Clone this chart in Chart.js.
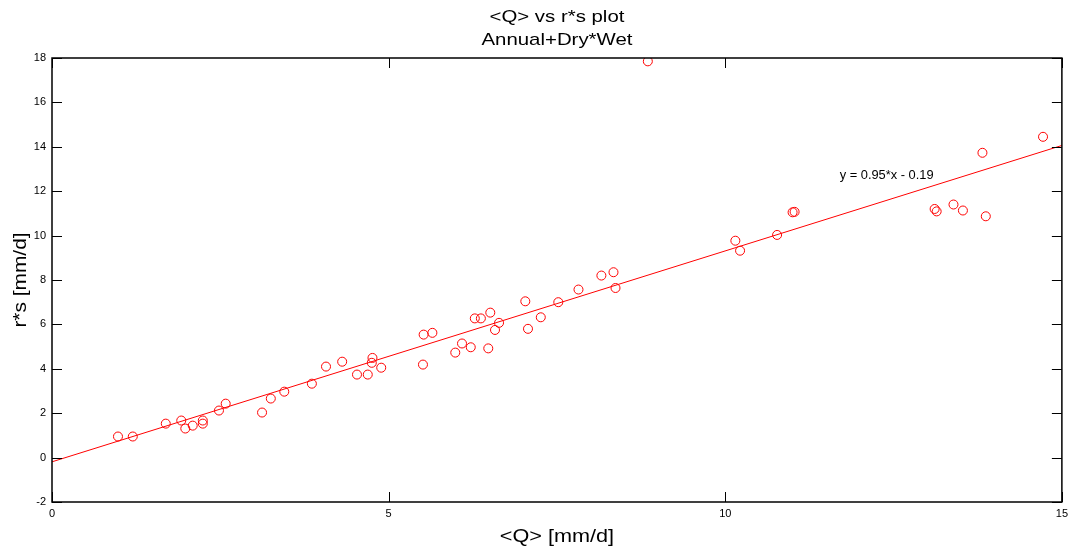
<!DOCTYPE html>
<html>
<head>
<meta charset="utf-8">
<script src="https://cdn.jsdelivr.net/npm/chart.js@4"></script>
<style>
  html, body { margin: 0; padding: 0; background: #fff; }
  #wrap { width: 1073px; height: 548px; position: relative; }
</style>
</head>
<body>
<div id="wrap"><canvas id="c" width="1073" height="548"></canvas></div>
<script>
// Observed mean discharge <Q> [mm/d]
const qValues = [
  0.98, 1.20, 1.69, 1.92, 1.98, 2.09, 2.24, 2.24, 2.48, 2.58,
  3.12, 3.25, 3.45, 3.86, 4.07, 4.31, 4.53, 4.69, 4.76, 4.75,
  4.89, 5.51, 5.52, 5.65, 5.99, 6.09, 6.22, 6.28, 6.37, 6.51,
  6.48, 6.64, 6.58, 7.03, 7.07, 7.26, 7.52, 7.82, 8.16, 8.34,
  8.37, 8.85, 10.15, 10.22, 10.77, 11.00, 11.03, 13.11, 13.14, 13.39,
  13.53, 13.82, 13.87, 14.72
];
// Corresponding r*s [mm/d]
const rsValues = [
  0.95, 0.95, 1.53, 1.67, 1.31, 1.44, 1.67, 1.53, 2.12, 2.43,
  2.03, 2.66, 2.97, 3.33, 4.10, 4.32, 3.74, 3.74, 4.49, 4.27,
  4.05, 4.19, 5.54, 5.62, 4.73, 5.14, 4.97, 6.27, 6.27, 6.53,
  4.92, 6.07, 5.75, 7.04, 5.80, 6.32, 7.00, 7.57, 8.20, 8.35,
  7.64, 17.85, 9.77, 9.32, 10.03, 11.05, 11.07, 11.20, 11.09, 11.40,
  11.13, 13.73, 10.87, 14.45
];
// Least-squares fit y = slope*x + intercept
const fitSlope = 0.95;
const fitIntercept = -0.19;
const fitRange = [0, 15];
const fitLabel = 'y = 0.95*x - 0.19';
const fitLabelAt = [11.7, 12.55];

const xTicks = [0, 5, 10, 15];
const yTicks = [-2, 0, 2, 4, 6, 8, 10, 12, 14, 16, 18];

const titleLines = ['<Q> vs r*s plot', 'Annual+Dry*Wet'];
const xTitle = '<Q> [mm/d]';
const yTitle = 'r*s [mm/d]';

const FONT = '"Liberation Sans", Arial, sans-serif';

const scatterPts = qValues.map((q, i) => ({ x: q, y: rsValues[i] }));
const fitPts = fitRange.map(x => ({ x: x, y: fitSlope * x + fitIntercept }));

// Draw text horizontally widened by factor sx around its anchor
function wideText(ctx, text, x, y, sx, align) {
  ctx.save();
  ctx.translate(x, y);
  ctx.scale(sx, 1);
  ctx.textAlign = align;
  ctx.fillText(text, 0, 0);
  ctx.restore();
}

// Frame, inward tick marks, titles and fit label
const decor = {
  id: 'decor',
  afterDatasetsDraw(chart) {
    const { ctx, chartArea: a, scales: { x, y } } = chart;
    ctx.save();
    ctx.strokeStyle = '#000';
    ctx.lineWidth = 1;
    ctx.beginPath();
    xTicks.forEach(v => {
      const px = Math.round(x.getPixelForValue(v)) + 0.5;
      ctx.moveTo(px, a.bottom); ctx.lineTo(px, a.bottom - 10);
      ctx.moveTo(px, a.top); ctx.lineTo(px, a.top + 10);
    });
    yTicks.forEach(v => {
      const py = Math.round(y.getPixelForValue(v)) + 0.5;
      ctx.moveTo(a.left, py); ctx.lineTo(a.left + 10, py);
      ctx.moveTo(a.right, py); ctx.lineTo(a.right - 10, py);
    });
    ctx.stroke();
    ctx.lineWidth = 1.5;
    ctx.strokeRect(a.left, a.top, a.right - a.left, a.bottom - a.top);

    ctx.fillStyle = '#000';
    ctx.textBaseline = 'alphabetic';
    const cx = (a.left + a.right) / 2;
    const cy = (a.top + a.bottom) / 2;

    ctx.font = '17px ' + FONT;
    wideText(ctx, titleLines[0], cx, 22, 1.2, 'center');
    wideText(ctx, titleLines[1], cx, 45, 1.2, 'center');

    ctx.font = '19px ' + FONT;
    wideText(ctx, xTitle, cx, 542, 1.14, 'center');

    ctx.save();
    ctx.translate(26, cy);
    ctx.rotate(-Math.PI / 2);
    ctx.scale(1.1, 1);
    ctx.textAlign = 'center';
    ctx.fillText(yTitle, 0, 0);
    ctx.restore();

    ctx.font = '12px ' + FONT;
    wideText(ctx, fitLabel, x.getPixelForValue(fitLabelAt[0]), y.getPixelForValue(fitLabelAt[1]), 1.07, 'left');
    ctx.restore();
  }
};

new Chart(document.getElementById('c'), {
  type: 'scatter',
  data: {
    datasets: [
      {
        label: 'data',
        data: scatterPts,
        showLine: false,
        pointStyle: 'circle',
        pointRadius: 4.5,
        pointBorderWidth: 1,
        borderColor: '#ff0000',
        backgroundColor: 'rgba(0,0,0,0)',
        pointBackgroundColor: 'rgba(0,0,0,0)',
        pointBorderColor: '#ff0000'
      },
      {
        label: 'fit',
        data: fitPts,
        showLine: true,
        pointRadius: 0,
        borderColor: '#ff0000',
        borderWidth: 1,
        fill: false
      }
    ]
  },
  options: {
    responsive: false,
    animation: false,
    devicePixelRatio: 1,
    layout: { padding: { top: 58, right: 11, left: 0, bottom: 0 } },
    plugins: {
      legend: { display: false },
      title: { display: false },
      tooltip: { enabled: false }
    },
    scales: {
      x: {
        type: 'linear',
        min: 0, max: 15,
        afterBuildTicks(s) { s.ticks = xTicks.map(v => ({ value: v })); },
        afterFit(s) { s.height = 46; },
        grid: { display: false, drawTicks: false },
        border: { display: false },
        ticks: { color: '#000', font: { family: FONT, size: 11 }, padding: 5, maxRotation: 0 },
        title: { display: false }
      },
      y: {
        type: 'linear',
        min: -2, max: 18,
        afterBuildTicks(s) { s.ticks = yTicks.map(v => ({ value: v })); },
        afterFit(s) { s.width = 52; },
        grid: { display: false, drawTicks: false },
        border: { display: false },
        ticks: { color: '#000', font: { family: FONT, size: 11 }, padding: 6 },
        title: { display: false }
      }
    }
  },
  plugins: [decor]
});
</script>
</body>
</html>
